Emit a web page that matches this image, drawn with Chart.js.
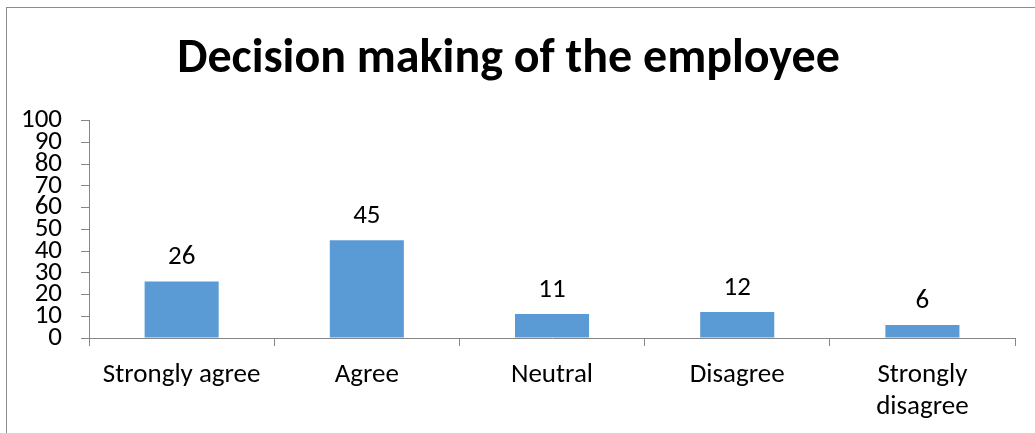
<!DOCTYPE html>
<html>
<head>
<meta charset="utf-8">
<script src="https://cdn.jsdelivr.net/npm/chart.js@4"></script>
<style>
  html, body { margin: 0; padding: 0; background: #fff; }
  #frame { position: absolute; left: 6px; top: 7px; width: 1100px; height: 500px;
           border-left: 1px solid #8c8c8c; border-top: 1px solid #8c8c8c; }
  #wrap { position: absolute; left: 0; top: 0; width: 1035px; height: 433px; }
</style>
</head>
<body>
<div id="frame"></div>
<div id="wrap"><canvas id="decisionchart"></canvas></div>
<script>
const categories = ['Strongly agree', 'Agree', 'Neutral', 'Disagree', ['Strongly', 'disagree']];
const values = [26, 45, 11, 12, 6];
const yTicks = [0, 10, 20, 30, 40, 50, 60, 70, 80, 90, 100];

const fontFamily = 'Carlito, Lato, sans-serif';
const axisColor = '#868686';

const valueLabels = {
    id: 'valueLabels',
    afterDatasetsDraw(chart) {
        const c = chart.ctx;
        c.save();
        c.font = '27px ' + fontFamily;
        c.fillStyle = '#000';
        c.textAlign = 'center';
        c.textBaseline = 'middle';
        chart.getDatasetMeta(0).data.forEach((bar, i) => {
            c.fillText(values[i], bar.x, bar.y - 24);
        });
        c.restore();
    }
};

const ctx = document.getElementById('decisionchart');

let options = {
    type: 'bar',
    data: {
        labels: categories,
        datasets: [{
            label: 'Decision making',
            data: values,
            backgroundColor: '#5B9BD5',
            barPercentage: 0.4,
            categoryPercentage: 1.0
        }]
    },
    options: {
        responsive: true,
        maintainAspectRatio: false,
        animation: false,
        layout: { padding: { left: 2, right: 20, bottom: -3, top: 0 } },
        plugins: {
            legend: { display: false },
            tooltip: { enabled: false },
            title: {
                display: true,
                text: 'Decision making of the employee',
                color: '#000',
                font: { family: fontFamily, size: 48, weight: 'bold' },
                padding: { top: 31, bottom: 32 }
            }
        },
        scales: {
            x: {
                grid: { drawOnChartArea: false, drawTicks: true, tickLength: 8, color: axisColor, offset: true },
                border: { display: true, color: axisColor },
                ticks: {
                    color: '#000',
                    font: { family: fontFamily, size: 27, lineHeight: 1.185 },
                    padding: 13,
                    maxRotation: 0,
                    autoSkip: false
                }
            },
            y: {
                min: 0,
                max: 100,
                afterBuildTicks: (axis) => { axis.ticks = yTicks.map(v => ({ value: v })); },
                grid: { drawOnChartArea: false, drawTicks: true, tickLength: 8, color: axisColor },
                border: { display: true, color: axisColor },
                ticks: {
                    stepSize: 10,
                    autoSkip: false,
                    color: '#000',
                    font: { family: fontFamily, size: 27, lineHeight: 1 },
                    padding: 19
                }
            }
        }
    },
    plugins: [valueLabels]
};
new Chart(ctx, options);
</script>
</body>
</html>
